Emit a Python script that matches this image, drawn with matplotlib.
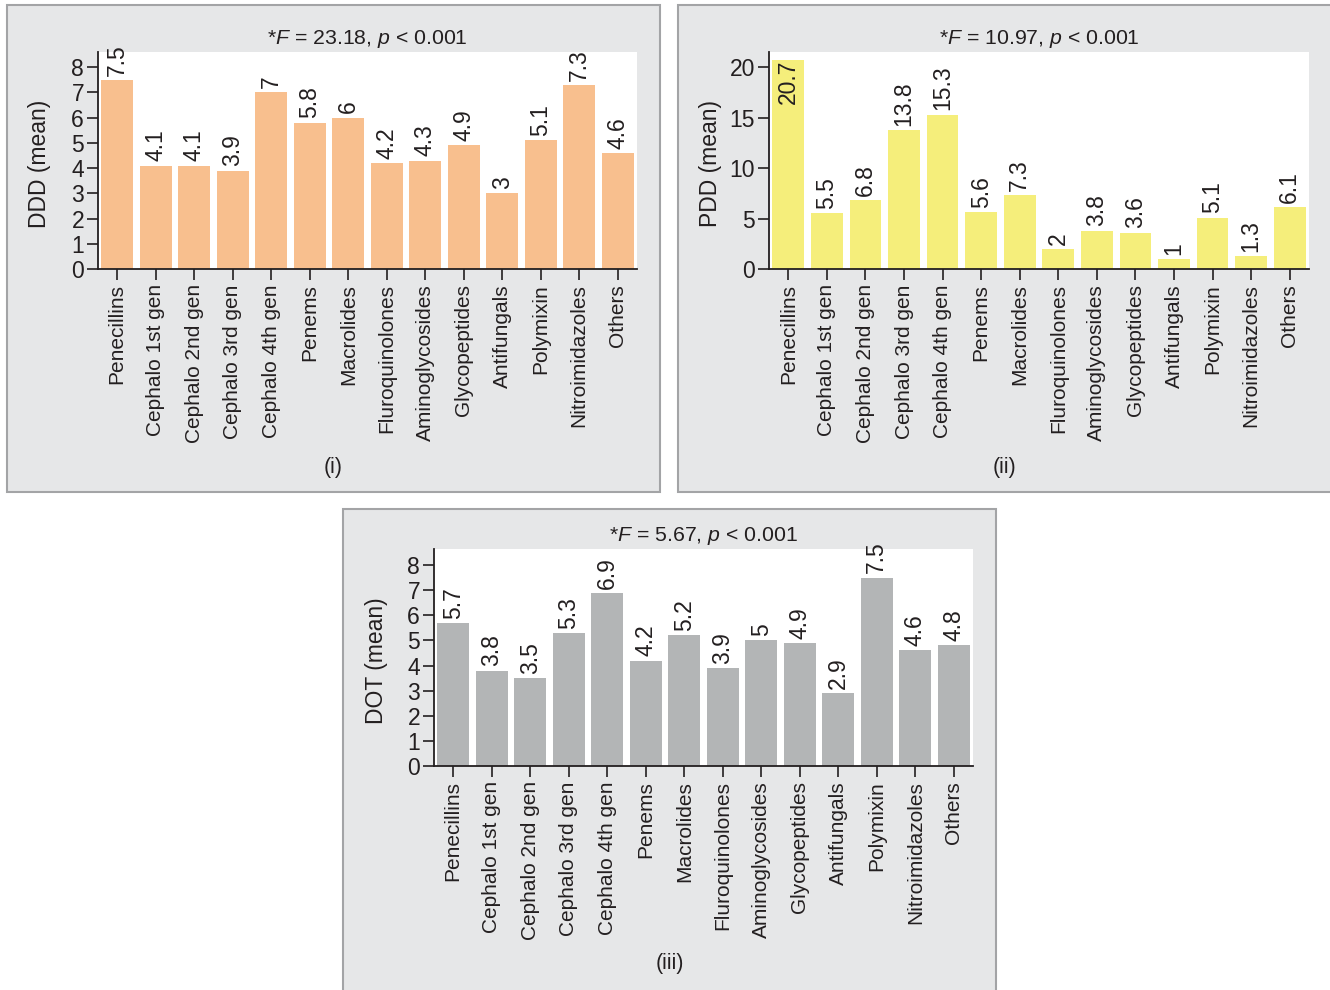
import matplotlib
matplotlib.use("Agg")
import matplotlib.pyplot as plt
from matplotlib.patches import Rectangle

plt.rcParams['font.family'] = ['Liberation Sans', 'DejaVu Sans']
plt.rcParams['mathtext.fontset'] = 'custom'
plt.rcParams['mathtext.rm'] = 'Liberation Sans'
plt.rcParams['mathtext.it'] = 'Liberation Sans:italic'

# datos
categorias = ["Penecillins", "Cephalo 1st gen", "Cephalo 2nd gen", "Cephalo 3rd gen",
              "Cephalo 4th gen", "Penems", "Macrolides", "Fluroquinolones",
              "Aminoglycosides", "Glycopeptides", "Antifungals", "Polymixin",
              "Nitroimidazoles", "Others"]
ddd = [7.5, 4.1, 4.1, 3.9, 7, 5.8, 6, 4.2, 4.3, 4.9, 3, 5.1, 7.3, 4.6]
pdd = [20.7, 5.5, 6.8, 13.8, 15.3, 5.6, 7.3, 2, 3.8, 3.6, 1, 5.1, 1.3, 6.1]
dot = [5.7, 3.8, 3.5, 5.3, 6.9, 4.2, 5.2, 3.9, 5, 4.9, 2.9, 7.5, 4.6, 4.8]

W, H = 1330, 990
fig = plt.figure(figsize=(13.3, 9.9), dpi=100)
fig.patch.set_facecolor("white")
TXT = "#231f20"


def panel_box(x0, y0, x1, y1, tag, tag_y):
    # caja gris de cada panel (pixeles)
    r = Rectangle((x0 / W, 1 - y1 / H), (x1 - x0) / W, (y1 - y0) / H,
                  transform=fig.transFigure, facecolor="#e6e7e8",
                  edgecolor="#a3a4a6", linewidth=1.5, zorder=0)
    fig.add_artist(r)
    fig.text((x0 + x1) / 2 / W, 1 - tag_y / H, tag, ha="center", va="center",
             fontsize=15.5, color=TXT)


def make_axes(x0, y0, x1, y1):
    return fig.add_axes([x0 / W, 1 - y1 / H, (x1 - x0) / W, (y1 - y0) / H])


def draw_panel(ax, values, color, ylabel, yticks, ylim, title, inside=None):
    pos = list(range(len(values)))
    ax.bar(pos, values, width=0.82, color=color, zorder=2)
    ax.set_xlim(-0.5, len(values) - 0.5)
    ax.set_ylim(*ylim)
    ax.set_yticks(yticks)
    ax.set_xticks(pos)
    ax.set_xticklabels(categorias, rotation=90, fontsize=15, color=TXT)
    ax.tick_params(axis="y", labelsize=16.5, length=8, width=1.2, direction="out",
                   colors=TXT, pad=2)
    ax.tick_params(axis="x", length=8, width=1.2, direction="out", colors=TXT, pad=3)
    for s in ["top", "right"]:
        ax.spines[s].set_visible(False)
    for s in ["left", "bottom"]:
        ax.spines[s].set_linewidth(1.3)
        ax.spines[s].set_color(TXT)
    ax.set_ylabel(ylabel, fontsize=16.5, color=TXT)
    ax.yaxis.label.set_verticalalignment("center")
    ax.yaxis.set_label_coords(-58 / 539, 0.485)
    ax.set_title(title, fontsize=15.3, color=TXT, pad=6)
    for i, v in enumerate(values):
        lab = f"{v:g}"
        if inside is not None and v > inside:
            ax.text(i, v, lab, rotation=90, ha="center", va="top", fontsize=16.5,
                    color=TXT, zorder=3)
        else:
            ax.annotate(lab, (i, v), xytext=(0, 3), textcoords="offset points",
                        rotation=90, ha="center", va="bottom", fontsize=16.5,
                        color=TXT, zorder=3, annotation_clip=False)


panel_box(7, 5, 660, 492, "(i)", 467)
panel_box(678, 5, 1332, 492, "(ii)", 467)
panel_box(343, 509, 996, 992, "(iii)", 963)

ax1 = make_axes(98, 52, 637, 269)
draw_panel(ax1, ddd, "#f8bf8e", "DDD (mean)", range(0, 9), (0, 8.6),
           r"*$\mathit{F}$ = 23.18, $\mathit{p}$ < 0.001")

ax2 = make_axes(769, 52, 1309, 269)
draw_panel(ax2, pdd, "#f5ee7b", "PDD (mean)", [0, 5, 10, 15, 20], (0, 21.5),
           r"*$\mathit{F}$ = 10.97, $\mathit{p}$ < 0.001", inside=20)

ax3 = make_axes(434, 549, 973, 766)
draw_panel(ax3, dot, "#b3b5b6", "DOT (mean)", range(0, 9), (0, 8.64),
           r"*$\mathit{F}$ = 5.67, $\mathit{p}$ < 0.001")

fig.savefig("out.png", dpi=100)
